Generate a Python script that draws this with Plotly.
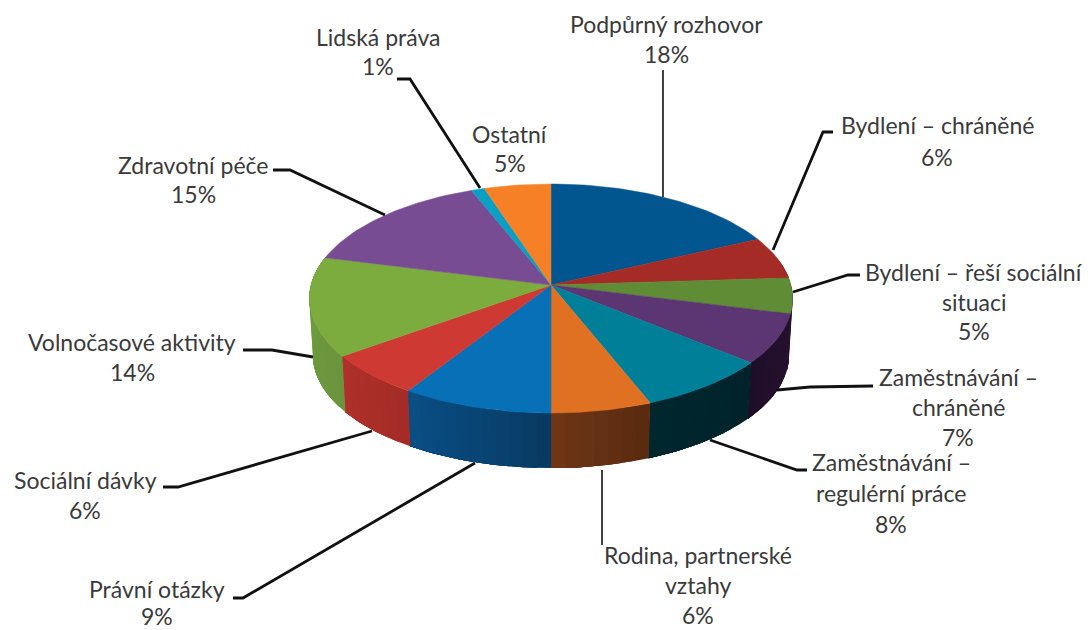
import math
import numpy as np
import plotly.graph_objects as go

categories = ["Podpůrný rozhovor", "Bydlení – chráněné", "Bydlení – řeší sociální situaci",
              "Zaměstnávání – chráněné", "Zaměstnávání – regulérní práce", "Rodina, partnerské vztahy",
              "Právní otázky", "Sociální dávky", "Volnočasové aktivity", "Zdravotní péče",
              "Lidská práva", "Ostatní"]
values = [18, 6, 5, 7, 8, 6, 9, 6, 14, 15, 1, 5]
top_colors = ["#02568F", "#A52B27", "#5F8C35", "#5B3673", "#007F99", "#E07022",
              "#0770B6", "#CE3A33", "#7BAC3D", "#784C93", "#0A9FC4", "#F58025"]
wall_left = ["#02568F", "#8A2420", "#25112F", "#1F0E2A", "#00262E", "#703618",
             "#0A4F86", "#B0302A", "#709D42", "#784C93", "#0A9FC4", "#F58025"]
wall_right = ["#02568F", "#8A2420", "#25112F", "#25112F", "#00232B", "#592A0F",
              "#073A62", "#A32B26", "#6A953C", "#784C93", "#0A9FC4", "#F58025"]
label_lines = [["Podpůrný rozhovor"], ["Bydlení – chráněné"], ["Bydlení – řeší sociální", "situaci"],
               ["Zaměstnávání –", "chráněné"], ["Zaměstnávání –", "regulérní práce"],
               ["Rodina, partnerské", "vztahy"], ["Právní otázky"], ["Sociální dávky"],
               ["Volnočasové aktivity"], ["Zdravotní péče"], ["Lidská práva"], ["Ostatní"]]
label_x = [666, 937, 974, 958, 891, 698, 157, 85, 132, 193, 378, 510]
label_y = [24, 125, 272, 377, 462, 555, 589, 480, 342, 165, 37, 134]
label_step = [30, 32, 29.5, 30, 31, 30, 27, 30, 30, 29, 29, 29]
leader_x = [[663, 663], [833, 823, 773], [860, 848, 793], [873, 810, 777], [807, 797, 710],
            [602, 602], [233, 243, 475], [163, 178, 372], [243, 272, 313], [273, 290, 385],
            [397, 410, 480], []]
leader_y = [[70, 197], [132, 132, 250], [275, 275, 292], [386, 387, 390], [470, 470, 440],
            [470, 545], [598, 598, 463], [487, 487, 431], [350, 350, 357], [170, 170, 215],
            [79, 79, 188], []]

CX, CY, RX, RY, K = 551.0, 285.0, 240.0, 112.9, 0.118
BOTTOM_SHIFT, BOTTOM_SCALE = 57.0, 0.985
TEXT = "#3A3A3A"


def project(theta, scale=1.0, dy=0.0):
    u, v = np.sin(theta), np.cos(theta)
    s = 1 / (1 + K * v)
    return CX + RX * scale * u * s, CY + dy - RY * scale * v * s


def mix(a, b, t):
    ca = [int(a[i:i + 2], 16) for i in (1, 3, 5)]
    cb = [int(b[i:i + 2], 16) for i in (1, 3, 5)]
    return "#%02x%02x%02x" % tuple(round(x + (y - x) * t) for x, y in zip(ca, cb))


cum = np.concatenate([[0], np.cumsum(values)]) / sum(values) * 2 * math.pi
fig = go.Figure()

# side walls of the visible (front) half; each strip overpaints the rest of
# the slice's wall, which gives the shading without seams
for i in range(len(values)):
    lo, hi = max(cum[i], math.pi * 0.42), min(cum[i + 1], math.pi * 1.58)
    if hi <= lo:
        continue
    strips = max(1, int((hi - lo) / 0.05))
    edges = np.linspace(lo, hi, strips + 1)
    for j in range(strips):
        a = np.linspace(edges[j], hi, 24)
        tx, ty = project(a)
        bx, by = project(a[::-1], BOTTOM_SCALE, BOTTOM_SHIFT)
        col = mix(wall_right[i], wall_left[i], (j + 0.5) / strips)
        fig.add_trace(go.Scatter(x=list(tx) + list(bx), y=list(ty) + list(by), mode="lines",
                                 fill="toself", fillcolor=col, line=dict(width=0),
                                 hoverinfo="skip", showlegend=False))

# top faces
for i, name in enumerate(categories):
    a = np.linspace(cum[i], cum[i + 1], max(4, int((cum[i + 1] - cum[i]) * 40)))
    ax, ay = project(a)
    fig.add_trace(go.Scatter(x=[CX] + list(ax) + [CX], y=[CY] + list(ay) + [CY], mode="lines",
                             fill="toself", fillcolor=top_colors[i], name=name,
                             line=dict(color=top_colors[i], width=0.5),
                             text=f"{name}: {values[i]}%", hoverinfo="text", showlegend=False))

# leader lines
for i, name in enumerate(categories):
    if leader_x[i]:
        thin = leader_x[i][0] == leader_x[i][1]
        fig.add_trace(go.Scatter(x=leader_x[i], y=leader_y[i], mode="lines",
                                 line=dict(color="#111111", width=1.6 if thin else 2.8),
                                 hoverinfo="skip", showlegend=False))

# labels
annotations = []
for i, lines in enumerate(label_lines):
    for n, line in enumerate(lines + [f"{values[i]}%"]):
        annotations.append(dict(x=label_x[i], y=label_y[i] + n * label_step[i], text=line,
                                xref="x", yref="y", showarrow=False, xanchor="center", yanchor="middle",
                                font=dict(family="Lato", size=23, color=TEXT)))

fig.update_layout(width=1088, height=630, autosize=False, margin=dict(l=0, r=0, t=0, b=0),
                  paper_bgcolor="white", plot_bgcolor="white", showlegend=False,
                  annotations=annotations,
                  xaxis=dict(range=[0, 1088], visible=False, fixedrange=True),
                  yaxis=dict(range=[630, 0], visible=False, fixedrange=True))
fig.write_html("out.html", config=dict(displayModeBar=False),
               post_script="document.body.style.margin='0';document.documentElement.style.overflow='hidden';")
